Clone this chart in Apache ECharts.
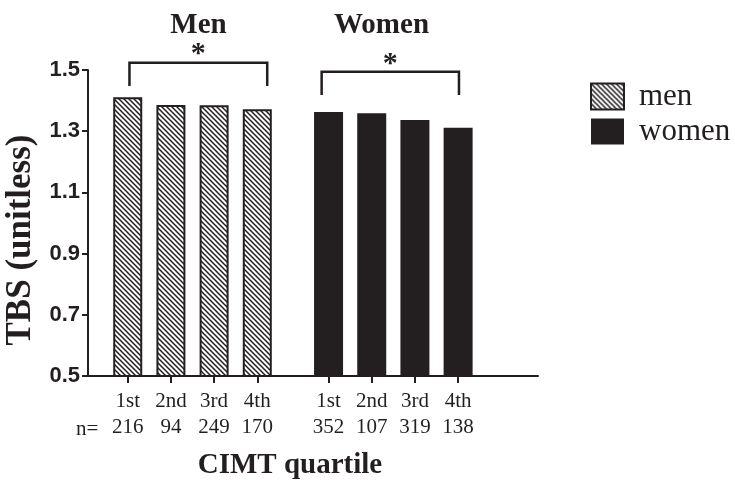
<!DOCTYPE html>
<html>
<head>
<meta charset="utf-8">
<script src="https://cdn.jsdelivr.net/npm/echarts@6/dist/echarts.min.js"></script>
<style>
  html, body { margin: 0; padding: 0; background: #ffffff; }
  #chart { width: 735px; height: 482px; }
</style>
</head>
<body>
<div id="chart"></div>
<script>
// CIMT quartiles and mean TBS per quartile, by sex
const quartiles = ['1st', '2nd', '3rd', '4th'];
const menTBS = [1.411, 1.386, 1.385, 1.372];
const womenTBS = [1.363, 1.359, 1.337, 1.311];
const menN = [216, 94, 249, 170];
const womenN = [352, 107, 319, 138];
const yTicks = [0.5, 0.7, 0.9, 1.1, 1.3, 1.5];
const groupNames = ['Men', 'Women'];
const seriesNames = ['men', 'women'];
const significance = ['*', '*'];

// layout along the x axis (in bar slots)
const groupStart = [1, 5.65];
const bracketSpan = [[0.04, 3.23], [-0.16, 3.02]];
const bracketLevel = [[1.524, 1.448], [1.494, 1.418]];

const INK = '#231f20';
const SERIF = '"Liberation Serif", "Times New Roman", serif';

function positions(g) { return quartiles.map((_, i) => groupStart[g] + i); }
const allPos = positions(0).concat(positions(1));
const labelByPos = {};
positions(0).forEach((p, i) => { labelByPos[p.toFixed(2)] = quartiles[i] + '\n' + menN[i]; });
positions(1).forEach((p, i) => { labelByPos[p.toFixed(2)] = quartiles[i] + '\n' + womenN[i]; });

// diagonal hatching for the men bars
function hatch() {
  const s = 5;
  const c = document.createElement('canvas');
  c.width = s; c.height = s;
  const ctx = c.getContext('2d');
  ctx.fillStyle = '#ffffff';
  ctx.fillRect(0, 0, s, s);
  ctx.strokeStyle = INK;
  ctx.lineWidth = 1.5;
  ctx.beginPath();
  ctx.moveTo(-1, -1); ctx.lineTo(s + 1, s + 1);
  ctx.moveTo(-1, s - 1); ctx.lineTo(1, s + 1);
  ctx.moveTo(s - 1, -1); ctx.lineTo(s + 1, 1);
  ctx.stroke();
  return { image: c, repeat: 'repeat' };
}

const bracketData = groupStart.map((s, g) => [
  s + bracketSpan[g][0], s + bracketSpan[g][1], bracketLevel[g][0], bracketLevel[g][1], g
]);

const chart = echarts.init(document.getElementById('chart'), null, { renderer: 'canvas' });
chart.setOption({
  animation: false,
  backgroundColor: '#ffffff',
  grid: { left: 88, right: 197, top: 70, bottom: 106, containLabel: false, outerBoundsMode: 'none' },
  legend: {
    data: seriesNames,
    orient: 'vertical',
    left: 585, top: 76,
    itemWidth: 33, itemHeight: 26, itemGap: 4,
    icon: 'rect',
    selectedMode: false,
    textStyle: { fontFamily: SERIF, fontSize: 31, color: INK, padding: [0, 0, 0, 10] }
  },
  xAxis: {
    type: 'value',
    min: 0.08, max: 10.5,
    splitLine: { show: false },
    axisLine: { show: true, onZero: false, lineStyle: { color: INK, width: 2 } },
    axisTick: { show: true, customValues: allPos, length: 7, lineStyle: { color: INK, width: 2 } },
    axisLabel: {
      customValues: allPos,
      formatter: v => labelByPos[Number(v).toFixed(2)] || '',
      fontFamily: SERIF, fontSize: 21, lineHeight: 26, color: INK, margin: 12
    },
    name: 'CIMT quartile',
    nameLocation: 'middle',
    nameGap: 75,
    nameTextStyle: { fontFamily: SERIF, fontWeight: 'bold', fontSize: 29, color: INK, padding: [0, 46, 0, 0] }
  },
  yAxis: {
    type: 'value',
    min: 0.5, max: 1.5,
    splitLine: { show: false },
    axisLine: { show: true, lineStyle: { color: INK, width: 2 } },
    axisTick: { show: true, customValues: yTicks, length: 6, lineStyle: { color: INK, width: 2 } },
    axisLabel: {
      customValues: yTicks,
      formatter: v => Number(v).toFixed(1),
      fontFamily: '"Liberation Sans", Arial, sans-serif', fontWeight: 'bold', fontSize: 22, color: INK, margin: 8
    },
    name: 'TBS (unitless)',
    nameLocation: 'middle',
    nameGap: 50,
    nameTextStyle: { fontFamily: SERIF, fontWeight: 'bold', fontSize: 35, color: INK, padding: [0, 34, 0, 0] }
  },
  graphic: [
    { type: 'text', x: 198.5, y: 26, style: { text: groupNames[0], fontFamily: SERIF, fontWeight: 'bold', fontSize: 29, fill: INK, align: 'center', verticalAlign: 'middle' } },
    { type: 'text', x: 381.5, y: 26, style: { text: groupNames[1], fontFamily: SERIF, fontWeight: 'bold', fontSize: 29, fill: INK, align: 'center', verticalAlign: 'middle' } },
    { type: 'text', x: 76, y: 429, style: { text: 'n=', fontFamily: SERIF, fontSize: 21, fill: INK, align: 'left', verticalAlign: 'middle' } }
  ],
  series: [
    {
      name: seriesNames[0],
      type: 'bar',
      barWidth: 29,
      barGap: '-100%',
      data: menTBS.map((v, i) => [groupStart[0] + i, v]),
      itemStyle: { color: hatch(), borderColor: INK, borderWidth: 2 }
    },
    {
      name: seriesNames[1],
      type: 'bar',
      barWidth: 29,
      barGap: '-100%',
      data: womenTBS.map((v, i) => [groupStart[1] + i, v]),
      itemStyle: { color: INK, borderColor: INK, borderWidth: 0 }
    },
    {
      type: 'custom',
      clip: false,
      silent: true,
      data: bracketData,
      renderItem: function (params, api) {
        const a = api.coord([api.value(0), api.value(3)]);
        const b = api.coord([api.value(0), api.value(2)]);
        const c = api.coord([api.value(1), api.value(2)]);
        const d = api.coord([api.value(1), api.value(3)]);
        return {
          type: 'group',
          children: [
            { type: 'polyline', shape: { points: [a, b, c, d] }, style: { stroke: INK, lineWidth: 2.5, fill: null } },
            { type: 'text', x: (b[0] + c[0]) / 2, y: b[1] + 7,
              style: { text: significance[api.value(4)], fontFamily: SERIF, fontWeight: 'bold', fontSize: 30, fill: INK, align: 'center', verticalAlign: 'bottom' } }
          ]
        };
      }
    }
  ]
});
</script>
</body>
</html>
